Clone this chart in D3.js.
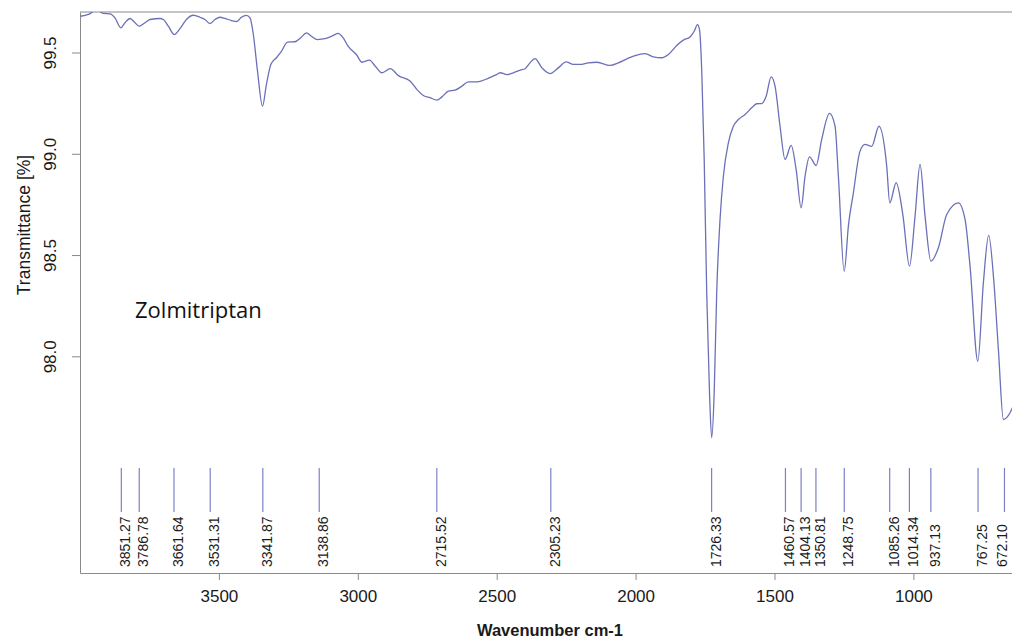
<!DOCTYPE html>
<html>
<head>
<meta charset="utf-8">
<script src="https://cdn.jsdelivr.net/npm/d3@7"></script>
<style>
  body { margin: 0; background: #fff; }
  svg { display: block; }
</style>
</head>
<body>
<svg width="1012" height="639"></svg>
<script>

// espectro (numero de onda cm-1, transmitancia %)
const wavenumber = [
  3998, 3970, 3940, 3916, 3892, 3874, 3853, 3838, 3820, 3802, 3787, 3766, 3748, 3712, 3700, 3682,
  3661, 3640, 3617, 3592, 3568, 3550, 3532, 3514, 3496, 3478, 3455, 3437, 3419, 3401, 3388, 3376,
  3361, 3343, 3329, 3313, 3293, 3275, 3253, 3226, 3205, 3185, 3167, 3145, 3118, 3095, 3071, 3053,
  3035, 3005, 2985, 2958, 2937, 2913, 2883, 2854, 2811, 2787, 2764, 2739, 2715, 2697, 2674, 2650,
  2625, 2602, 2571, 2535, 2505, 2487, 2463, 2440, 2415, 2398, 2380, 2362, 2337, 2308, 2278, 2250,
  2224, 2200, 2170, 2140, 2116, 2092, 2062, 2031, 2002, 1966, 1936, 1906, 1882, 1852, 1828, 1804,
  1789, 1777, 1770, 1762, 1753, 1744, 1734, 1726, 1717, 1708, 1696, 1684, 1666, 1648, 1630, 1606,
  1582, 1564, 1546, 1530, 1512, 1498, 1480, 1462, 1440, 1422, 1404, 1390, 1374, 1350, 1330, 1302,
  1282, 1270, 1249, 1234, 1216, 1192, 1174, 1150, 1124, 1096, 1085, 1062, 1038, 1014, 994, 976,
  958, 937, 910, 880, 838, 814, 796, 768, 748, 729, 710, 694, 676, 652, 641
];

const transmittance = [
  99.679, 99.688, 99.71, 99.693, 99.691, 99.671, 99.622, 99.647, 99.668, 99.647, 99.630, 99.647, 99.663, 99.668, 99.663, 99.630,
  99.589, 99.618, 99.663, 99.684, 99.674, 99.663, 99.643, 99.663, 99.674, 99.668, 99.658, 99.652, 99.674, 99.683, 99.671, 99.589,
  99.408, 99.235, 99.342, 99.441, 99.474, 99.506, 99.551, 99.553, 99.573, 99.597, 99.580, 99.564, 99.568, 99.580, 99.594, 99.573,
  99.531, 99.490, 99.452, 99.462, 99.432, 99.400, 99.420, 99.386, 99.358, 99.317, 99.288, 99.276, 99.265, 99.281, 99.309, 99.314,
  99.334, 99.355, 99.355, 99.370, 99.388, 99.400, 99.391, 99.400, 99.413, 99.420, 99.449, 99.470, 99.424, 99.396, 99.424, 99.454,
  99.441, 99.441, 99.449, 99.452, 99.444, 99.436, 99.449, 99.469, 99.485, 99.494, 99.479, 99.474, 99.490, 99.535, 99.561, 99.577,
  99.605, 99.638, 99.614, 99.416, 98.972, 98.315, 97.822, 97.598, 97.822, 98.315, 98.676, 98.889, 99.054, 99.136, 99.169, 99.194,
  99.227, 99.247, 99.248, 99.284, 99.380, 99.334, 99.136, 98.972, 99.041, 98.922, 98.733, 98.889, 98.985, 98.942, 99.071, 99.199,
  99.136, 98.889, 98.420, 98.643, 98.807, 99.013, 99.046, 99.037, 99.136, 98.939, 98.758, 98.857, 98.700, 98.445, 98.692, 98.947,
  98.692, 98.470, 98.536, 98.700, 98.758, 98.676, 98.445, 97.976, 98.363, 98.597, 98.363, 98.034, 97.688, 97.721, 97.754
];

// picos marcados
const peaks = [3851.27, 3786.78, 3661.64, 3531.31, 3341.87, 3138.86, 2715.52, 2305.23,
  1726.33, 1460.57, 1404.13, 1350.81, 1248.75, 1085.26, 1014.34, 937.13, 767.25, 672.10];

const xTicks = [3500, 3000, 2500, 2000, 1500, 1000];
const yTicks = [98.0, 98.5, 99.0, 99.5];

const sampleName = "Zolmitriptan";
const xTitle = "Wavenumber cm-1";
const yTitle = "Transmittance [%]";

const vis = {

  dims: { left: 80, right: 1012, top: 12, bottom: 573 },

  cores: { curva: "#6b70b8", pico: "#7c80c6", eixo: "#8a8a8a", texto: "#1a1a1a" },

  fonte: "Liberation Sans, Arial, sans-serif",

  init: function() {

    const d = vis.dims;
    const svg = d3.select("svg");

    const x = d3.scaleLinear().domain([4000, 645]).range([d.left, d.right]);
    const y = d3.scaleLinear().domain([96.93, 99.70]).range([d.bottom, d.top]);

    svg.append("defs").append("clipPath").attr("id", "area")
      .append("rect")
      .attr("x", d.left).attr("y", d.top)
      .attr("width", d.right - d.left).attr("height", d.bottom - d.top);

    // eixos
    const eixoX = svg.append("g")
      .attr("transform", `translate(0,${d.bottom})`)
      .call(d3.axisBottom(x).tickValues(xTicks).tickFormat(d3.format("d")).tickSize(7).tickSizeOuter(0).tickPadding(4));

    eixoX.selectAll("text")
      .attr("font-family", vis.fonte)
      .attr("font-size", 17)
      .attr("fill", vis.cores.texto)
      .attr("dy", "1.05em");

    const eixoY = svg.append("g")
      .attr("transform", `translate(${d.left},0)`)
      .call(d3.axisLeft(y).tickValues(yTicks).tickFormat(d3.format(".1f")).tickSize(8).tickSizeOuter(0));

    eixoY.selectAll("text")
      .attr("font-family", vis.fonte)
      .attr("font-size", 17)
      .attr("fill", vis.cores.texto)
      .attr("text-anchor", "middle")
      .attr("x", null).attr("dy", null)
      .attr("transform", "translate(-24,0) rotate(-90)");

    svg.selectAll(".domain, .tick line").attr("stroke", vis.cores.eixo);

    // moldura de cima
    svg.append("line")
      .attr("x1", d.left).attr("x2", d.right)
      .attr("y1", d.top).attr("y2", d.top)
      .attr("stroke", vis.cores.eixo);

    // curva
    const pontos = wavenumber.map((w, i) => [w, transmittance[i]]);

    svg.append("path")
      .datum(pontos)
      .attr("clip-path", "url(#area)")
      .attr("fill", "none")
      .attr("stroke", vis.cores.curva)
      .attr("stroke-width", 1.3)
      .attr("d", d3.line()
        .x(p => x(p[0]))
        .y(p => y(p[1]))
        .curve(d3.curveMonotoneX));

    // linhas dos picos
    const gp = svg.append("g");

    gp.selectAll("line")
      .data(peaks)
      .join("line")
      .attr("x1", p => x(p)).attr("x2", p => x(p))
      .attr("y1", 468).attr("y2", 512)
      .attr("stroke", vis.cores.pico)
      .attr("stroke-width", 1.2);

    // o ultimo rotulo fica encostado na borda direita
    gp.selectAll("text")
      .data(peaks)
      .join("text")
      .attr("transform", p => `translate(${Math.min(x(p) + 4, d.right - 10)},567) rotate(-90)`)
      .attr("dy", "0.35em")
      .attr("font-family", vis.fonte)
      .attr("font-size", 14)
      .attr("fill", vis.cores.texto)
      .text(p => p.toFixed(2));

    // titulos
    svg.append("text")
      .attr("x", 550).attr("y", 636)
      .attr("text-anchor", "middle")
      .attr("font-family", vis.fonte)
      .attr("font-size", 16.5)
      .attr("font-weight", "bold")
      .attr("fill", vis.cores.texto)
      .text(xTitle);

    svg.append("text")
      .attr("transform", "translate(30,225) rotate(-90)")
      .attr("text-anchor", "middle")
      .attr("font-family", vis.fonte)
      .attr("font-size", 17.5)
      .attr("fill", vis.cores.texto)
      .text(yTitle);

    svg.append("text")
      .attr("x", 135).attr("y", 318)
      .attr("font-family", "Open Sans, Noto Sans, sans-serif")
      .attr("font-size", 22)
      .attr("fill", "#111")
      .text(sampleName);

  }

};

vis.init();
</script>
</body>
</html>
